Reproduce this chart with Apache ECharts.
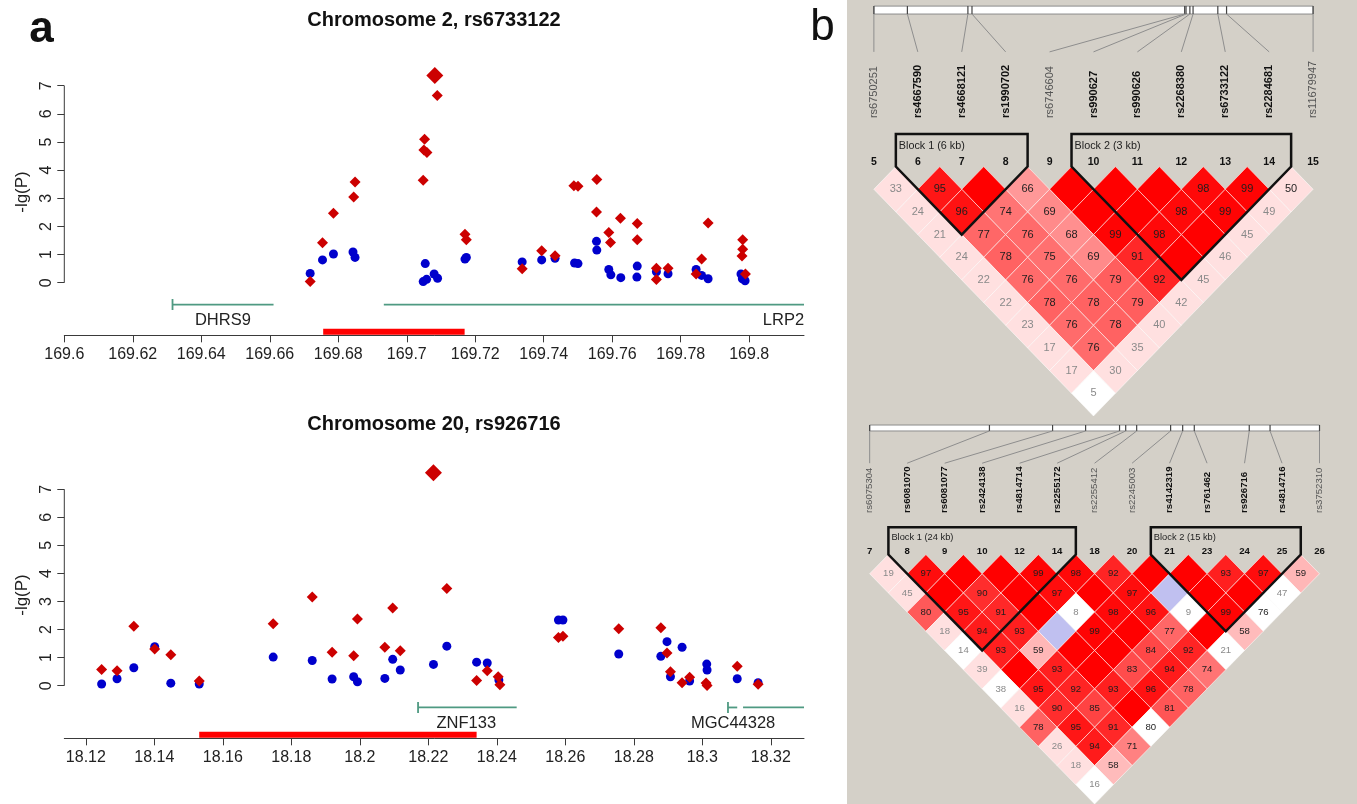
<!DOCTYPE html>
<html><head><meta charset="utf-8">
<script src="https://cdn.jsdelivr.net/npm/echarts@6/dist/echarts.min.js"></script>
<style>html,body{margin:0;padding:0;background:#fff}#c{width:1357px;height:804px}</style>
</head><body><div id="c"></div>
<script>
// ================= Panel a: data =================
const chr2Title = 'Chromosome 2, rs6733122';
const chr2Range = [169.6, 169.816];
const chr2XTicks = [169.6,169.62,169.64,169.66,169.68,169.7,169.72,169.74,169.76,169.78,169.8];
const chr2Red = [
 [169.6718,0.04],[169.6754,1.42],[169.6786,2.47],[169.6849,3.58],[169.6845,3.05],
 [169.7089,6.65],[169.7052,5.10],[169.7050,4.72],[169.7059,4.63],[169.7048,3.64],
 [169.7170,1.72],[169.7174,1.53],[169.7337,0.50],[169.7394,1.14],[169.7433,0.96],
 [169.7488,3.45],[169.7500,3.43],[169.7555,3.67],[169.7554,2.51],[169.7590,1.78],[169.7595,1.43],
 [169.7624,2.29],[169.7673,2.10],[169.7673,1.53],[169.7729,0.51],[169.7729,0.11],[169.7763,0.51],
 [169.7880,2.12],[169.7861,0.84],[169.7845,0.31],[169.7981,1.53],[169.7981,1.19],[169.7979,0.95],[169.7989,0.31]
];
const chr2Blue = [
 [169.6718,0.33],[169.6754,0.81],[169.6786,1.02],[169.6843,1.09],[169.6849,0.90],
 [169.7054,0.68],[169.7048,0.04],[169.7058,0.12],[169.7080,0.31],[169.7090,0.16],
 [169.7170,0.84],[169.7174,0.90],[169.7337,0.74],[169.7394,0.81],[169.7433,0.87],
 [169.7490,0.70],[169.7500,0.68],[169.7554,1.47],[169.7555,1.16],[169.7590,0.47],[169.7596,0.28],
 [169.7625,0.18],[169.7673,0.59],[169.7672,0.20],[169.7729,0.39],[169.7763,0.32],
 [169.7845,0.47],[169.7861,0.26],[169.7880,0.14],[169.7976,0.31],[169.7980,0.14],[169.7988,0.07]
];
const chr2Lead = [[169.7082,7.36]];
const chr2GeneSegs = [[169.6316,169.6611,1],[169.6933,169.816,0]];
const chr2GeneLabels = [['DHRS9',169.6463],['LRP2',169.8100]];
const chr2Region = [[169.6756,169.7169]];

const chr20Title = 'Chromosome 20, rs926716';
const chr20Range = [18.1137, 18.3297];
const chr20XTicks = [18.12,18.14,18.16,18.18,18.2,18.22,18.24,18.26,18.28,18.3,18.32];
const chr20Red = [
 [18.1246,0.58],[18.1291,0.53],[18.1340,2.12],[18.1401,1.31],[18.1448,1.10],[18.1531,0.17],
 [18.1747,2.21],[18.1861,3.16],[18.1919,1.19],[18.1993,2.38],[18.1982,1.07],[18.2073,1.37],[18.2096,2.77],[18.2118,1.25],
 [18.2254,3.46],[18.2341,0.19],[18.2372,0.53],[18.2404,0.32],[18.2409,0.03],
 [18.2580,1.72],[18.2593,1.76],[18.2756,2.03],[18.2879,2.07],[18.2897,1.17],[18.2907,0.50],[18.2941,0.11],[18.2963,0.30],
 [18.3011,0.10],[18.3014,0.01],[18.3102,0.69],[18.3163,0.05]
];
const chr20Blue = [
 [18.1246,0.06],[18.1291,0.25],[18.1340,0.64],[18.1401,1.39],[18.1448,0.09],[18.1531,0.06],
 [18.1747,1.02],[18.1861,0.90],[18.1919,0.24],[18.1982,0.32],[18.1993,0.14],[18.2073,0.26],[18.2096,0.94],[18.2118,0.56],
 [18.2215,0.76],[18.2254,1.41],[18.2341,0.84],[18.2372,0.81],[18.2406,0.20],
 [18.2580,2.34],[18.2593,2.34],[18.2756,1.13],[18.2879,1.05],[18.2897,1.57],[18.2907,0.32],[18.2941,1.37],[18.2963,0.17],
 [18.3013,0.77],[18.3014,0.56],[18.3102,0.25],[18.3163,0.11]
];
const chr20Lead = [[18.2215,7.59]];
const chr20GeneSegs = [[18.2170,18.2458,1],[18.3075,18.3102,1],[18.3119,18.3297,0]];
const chr20GeneLabels = [['ZNF133',18.2311],['MGC44328',18.3090]];
const chr20Region = [[18.1531,18.2341]];

const yTicks = [0,1,2,3,4,5,6,7];
const yLabel = '-lg(P)';

// ================= Panel b: data =================
const ld1Markers = ['5','6','7','8','9','10','11','12','13','14','15'];
const ld1Snps = ['rs6750251','rs4667590','rs4668121','rs1990702','rs6746604','rs990627','rs990626','rs2268380','rs6733122','rs2284681','rs11679947'];
const ld1PosKb = [0,2.95,8.28,8.64,27.37,27.49,27.83,28.11,30.29,31.06,38.68];
const ld1Blocks = [[1,3,'Block 1 (6 kb)'],[5,9,'Block 2 (3 kb)']];
const ld1Dprime = [
 [33,95,100,66,100,100,100,98,99,50],
 [24,96,74,69,100,100,98,99,49],
 [21,77,76,68,99,98,100,45],
 [24,78,75,69,91,100,46],
 [22,76,76,79,92,45],
 [22,78,78,79,42],
 [23,76,78,40],
 [17,76,35],
 [17,30],
 [5]
];
const ld1LowLod = [[0,10]];

const ld2Markers = ['7','8','9','10','12','14','18','20','21','23','24','25','26'];
const ld2Snps = ['rs6075304','rs6081070','rs6081077','rs2424138','rs4814714','rs2255172','rs2255412','rs2245003','rs4142319','rs761462','rs926716','rs4814716','rs3752310'];
const ld2PosKb = [0,20.85,31.84,37.59,43.50,44.57,46.48,52.39,54.49,56.51,66.08,69.70,78.31];
const ld2Blocks = [[1,5,'Block 1 (24 kb)'],[8,11,'Block 2 (15 kb)']];
const ld2Dprime = [
 [19,97,100,100,99,98,92,100,100,93,97,59],
 [45,100,90,100,97,100,97,100,100,100,47],
 [80,95,91,100,8,98,96,9,99,76],
 [18,94,93,100,99,100,77,100,58],
 [14,93,59,100,100,84,92,21],
 [39,100,93,100,83,94,74],
 [38,95,92,93,96,78],
 [16,90,85,100,81],
 [78,95,91,80],
 [26,94,71],
 [18,58],
 [16]
];
const ld2LowLod = [[7,9],[10,12],[4,7],[7,10],[9,12],[3,7],[0,5],[7,12],[0,7],[3,12],[0,12]];

// ================= styles / layout =================
const FONT = 'Liberation Sans, Arial, Helvetica, sans-serif';
const RED = '#cc0000', BLUE = '#0000cc', GENE = '#4f9a82', REGION = '#ff0000', AXIS = '#3a3a3a';
const TRACK_Y = -0.775, GENE_LABEL_Y = -1.33;

function fmtTick(v){ return String(parseFloat(v.toFixed(3))); }

function scatterAxes(grid, range, xTicks, yMin, yMax){
  return {
    x: { gridIndex: grid, type:'value', min: range[0], max: range[1],
      axisLine:{show:true, onZero:false, lineStyle:{color:AXIS, width:1}},
      axisTick:{show:true, length:7, customValues:xTicks, lineStyle:{color:AXIS}},
      axisLabel:{customValues:xTicks, formatter:fmtTick, fontSize:16, fontFamily:FONT, color:'#222', margin:11},
      splitLine:{show:false} },
    y: { gridIndex: grid, type:'value', min: yMin, max: yMax,
      axisLine:{show:false},
      axisTick:{show:true, length:7, customValues:yTicks, lineStyle:{color:AXIS}},
      axisLabel:{customValues:yTicks, rotate:90, fontSize:16, fontFamily:FONT, color:'#222', margin:10},
      splitLine:{show:false} }
  };
}

function scatterSeries(axisIdx, red, blue, lead, range, geneSegs, geneLabels, region, yMin){
  const s = [];
  s.push({ type:'line', xAxisIndex:axisIdx, yAxisIndex:axisIdx, data:[[range[0],yTicks[0]],[range[0],yTicks[yTicks.length-1]]],
    symbol:'none', clip:false, silent:true, lineStyle:{color:AXIS, width:1}, z:1 });
  s.push({ type:'custom', xAxisIndex:axisIdx, yAxisIndex:axisIdx, data:geneSegs, clip:false, silent:true,
    renderItem:(p, api)=>{
      const a = api.coord([api.value(0), TRACK_Y]), b = api.coord([api.value(1), TRACK_Y]);
      const ch = [{type:'line', shape:{x1:a[0], y1:a[1], x2:b[0], y2:b[1]}, style:{stroke:GENE, lineWidth:1.8}}];
      if (api.value(2)) ch.push({type:'line', shape:{x1:a[0], y1:a[1]-5.5, x2:a[0], y2:a[1]+5.5}, style:{stroke:GENE, lineWidth:1.8}});
      return {type:'group', children:ch};
    }});
  s.push({ type:'custom', xAxisIndex:axisIdx, yAxisIndex:axisIdx, data:geneLabels.map(g=>[g[1]]), clip:false, silent:true,
    renderItem:(p, api)=>{
      const c = api.coord([api.value(0), GENE_LABEL_Y]);
      return {type:'text', x:c[0], y:c[1], style:{text:geneLabels[p.dataIndex][0], fill:'#222', fontSize:16.5, fontFamily:FONT, align:'center', verticalAlign:'middle'}};
    }});
  s.push({ type:'custom', xAxisIndex:axisIdx, yAxisIndex:axisIdx, data:region, clip:false, silent:true,
    renderItem:(p, api)=>{
      const a = api.coord([api.value(0), yMin]), b = api.coord([api.value(1), yMin]);
      return {type:'rect', shape:{x:a[0], y:a[1]-6.5, width:b[0]-a[0], height:6}, style:{fill:REGION}};
    }});
  s.push({ type:'scatter', xAxisIndex:axisIdx, yAxisIndex:axisIdx, data:blue, symbol:'circle', symbolSize:9, itemStyle:{color:BLUE, opacity:1}, silent:true, z:3 });
  s.push({ type:'scatter', xAxisIndex:axisIdx, yAxisIndex:axisIdx, data:red, symbol:'diamond', symbolSize:11, itemStyle:{color:RED, opacity:1}, silent:true, z:4 });
  s.push({ type:'scatter', xAxisIndex:axisIdx, yAxisIndex:axisIdx, data:lead, symbol:'diamond', symbolSize:17, itemStyle:{color:RED, opacity:1}, silent:true, z:4 });
  return s;
}

// ---------- LD heatmap ----------
function ldColor(v, low){
  const d = v/100;
  if (!low){ if (d < 0.5) return 'rgb(255,224,224)'; const g = Math.round(223*2*(1-d)); return 'rgb(255,'+g+','+g+')'; }
  return d > 0.99 ? 'rgb(192,192,240)' : '#ffffff';
}
function ldSeries(axisIdx, markers, snps, posKb, blocks, dprime, lowList, lay){
  const n = markers.length;
  const span = posKb[n-1]-posKb[0];
  const inBlock = i => blocks.some(b => i>=b[0] && i<=b[1]);
  const cells = [];
  dprime.forEach((row,k)=>{ const d=k+1; row.forEach((v,i)=>{ const j=i+d;
    const low = lowList.some(q=>q[0]===i&&q[1]===j) ? 1 : 0; cells.push([i,j,v,low]); }); });
  const header = markers.map((m,i)=>[i, (posKb[i]-posKb[0])/span*(n-1)]);
  const out = [];
  out.push({ type:'custom', xAxisIndex:axisIdx, yAxisIndex:axisIdx, data:cells, clip:false, silent:true, z:2,
    renderItem:(p, api)=>{
      const i=api.value(0), j=api.value(1), v=api.value(2), low=api.value(3);
      const cx=(i+j)/2, d=j-i;
      const pts=[[cx-0.5,d],[cx,d-1],[cx+0.5,d],[cx,d+1]].map(q=>api.coord(q));
      const ch=[{type:'polygon', shape:{points:pts}, style:{fill:ldColor(v,low), stroke:'rgba(255,255,255,0.55)', lineWidth:1}}];
      if (v < 100){ const c=api.coord([cx,d]);
        ch.push({type:'text', x:c[0], y:c[1], style:{text:String(v), fill: v<50 ? '#8a8a8a' : '#1e1e1e', fontSize:lay.cellFs, fontFamily:FONT, align:'center', verticalAlign:'middle'}}); }
      return {type:'group', children:ch};
    }});
  out.push({ type:'custom', xAxisIndex:axisIdx, yAxisIndex:axisIdx, data:header, clip:false, silent:true, z:2,
    renderItem:(p, api)=>{
      const i=api.value(0), pos=api.value(1);
      const ch=[];
      if (i===0){
        const a=api.coord([0,lay.barTop]), b=api.coord([n-1,lay.barBot]);
        ch.push({type:'rect', shape:{x:a[0], y:a[1], width:b[0]-a[0], height:b[1]-a[1]}, style:{fill:'#ffffff', stroke:'#8c8c8c', lineWidth:1}});
      }
      const t=api.coord([pos,lay.barTop]), tb=api.coord([pos,lay.barBot]), e=api.coord([i,lay.lineEnd]);
      ch.push({type:'line', shape:{x1:t[0], y1:t[1], x2:tb[0], y2:tb[1]}, style:{stroke:'#444', lineWidth:1.2}});
      ch.push({type:'line', shape:{x1:tb[0], y1:tb[1], x2:e[0], y2:e[1]}, style:{stroke:'#8e8e8e', lineWidth:1}});
      const L=api.coord([i,lay.labelBot]);
      const bold=inBlock(i);
      ch.push({type:'text', x:L[0], y:L[1], rotation:Math.PI/2, style:{text:snps[i], fill: bold ? '#111' : '#555', fontSize:lay.snpFs, fontWeight: bold ? 'bold' : 'normal', fontFamily:FONT, align:'left', verticalAlign:'middle'}});
      const N=api.coord([i,lay.num]);
      ch.push({type:'text', x:N[0], y:N[1], style:{text:markers[i], fill:'#111', fontSize:lay.numFs, fontWeight:'bold', fontFamily:FONT, align:'center', verticalAlign:'middle'}});
      return {type:'group', children:ch};
    }});
  out.push({ type:'custom', xAxisIndex:axisIdx, yAxisIndex:axisIdx, data:blocks.map(b=>[b[0],b[1]]), clip:false, silent:true, z:3,
    renderItem:(p, api)=>{
      const a=api.value(0), b=api.value(1);
      const pts=[[a-0.5,lay.blockTop],[a-0.5,0],[(a+b)/2,b-a+1],[b+0.5,0],[b+0.5,lay.blockTop]].map(q=>api.coord(q));
      const T=api.coord([a-0.5,lay.blockLabel]);
      return {type:'group', children:[
        {type:'polygon', shape:{points:pts}, style:{fill:'none', stroke:'#111', lineWidth:2.5, lineJoin:'miter'}},
        {type:'text', x:T[0]+3, y:T[1], style:{text:blocks[p.dataIndex][2], fill:'#222', fontSize:lay.blockFs, fontFamily:FONT, align:'left', verticalAlign:'middle'}}
      ]};
    }});
  return out;
}

const LAY1 = {barTop:-7.08, barBot:-6.73, lineEnd:-5.06, labelBot:-2.14, blockTop:-1.44, blockLabel:-0.91, num:-0.19, cellFs:11, snpFs:11, numFs:10.5, blockFs:10.8};
const LAY2 = {barTop:-6.75, barBot:-6.44, lineEnd:-4.76, labelBot:-2.17, blockTop:-1.42, blockLabel:-0.87, num:-0.17, cellFs:9.6, snpFs:9.6, numFs:9.6, blockFs:9.3};

const A1 = scatterAxes(0, chr2Range, chr2XTicks, -1.87, 7.6);
const A2 = scatterAxes(1, chr20Range, chr20XTicks, -1.875, 7.8);

const option = {
  animation:false,
  backgroundColor:'#ffffff',
  grid:[
    {left:64.3, top:68.84, width:739.7, height:266.5},
    {left:64.3, top:466.83, width:739.7, height:271.5},
    {left:829.97, top:1.11, width:543.96, height:421.66},
    {left:832.18, top:420.23, width:539.28, height:385.2}
  ],
  xAxis:[A1.x, A2.x,
    {gridIndex:2, type:'value', min:-1, max:11, show:false},
    {gridIndex:3, type:'value', min:-1, max:13, show:false}],
  yAxis:[A1.y, A2.y,
    {gridIndex:2, type:'value', min:-7.3, max:11.3, inverse:true, show:false},
    {gridIndex:3, type:'value', min:-7.0, max:13.0, inverse:true, show:false}],
  graphic:{elements:[
    {type:'rect', z:-10, shape:{x:847, y:0, width:510, height:804}, style:{fill:'#d4d0c8'}},
    {type:'text', x:41.5, y:30, style:{text:'a', font:'bold 44px '+FONT, fill:'#111', align:'center', verticalAlign:'middle'}},
    {type:'text', x:822.5, y:28, style:{text:'b', font:'44px '+FONT, fill:'#111', align:'center', verticalAlign:'middle'}},
    {type:'text', x:434, y:20, style:{text:chr2Title, font:'bold 20px '+FONT, fill:'#111', align:'center', verticalAlign:'middle'}},
    {type:'text', x:434, y:424.5, style:{text:chr20Title, font:'bold 20px '+FONT, fill:'#111', align:'center', verticalAlign:'middle'}},
    {type:'text', x:22.5, y:192, rotation:Math.PI/2, style:{text:yLabel, font:'17px '+FONT, fill:'#222', align:'center', verticalAlign:'middle'}},
    {type:'text', x:22.5, y:595, rotation:Math.PI/2, style:{text:yLabel, font:'17px '+FONT, fill:'#222', align:'center', verticalAlign:'middle'}}
  ]},
  series:[].concat(
    scatterSeries(0, chr2Red, chr2Blue, chr2Lead, chr2Range, chr2GeneSegs, chr2GeneLabels, chr2Region, -1.87),
    scatterSeries(1, chr20Red, chr20Blue, chr20Lead, chr20Range, chr20GeneSegs, chr20GeneLabels, chr20Region, -1.875),
    ldSeries(2, ld1Markers, ld1Snps, ld1PosKb, ld1Blocks, ld1Dprime, ld1LowLod, LAY1),
    ldSeries(3, ld2Markers, ld2Snps, ld2PosKb, ld2Blocks, ld2Dprime, ld2LowLod, LAY2)
  )
};
const chart = echarts.init(document.getElementById('c'), null, {renderer:'canvas'});
chart.setOption(option);
</script>
</body></html>
